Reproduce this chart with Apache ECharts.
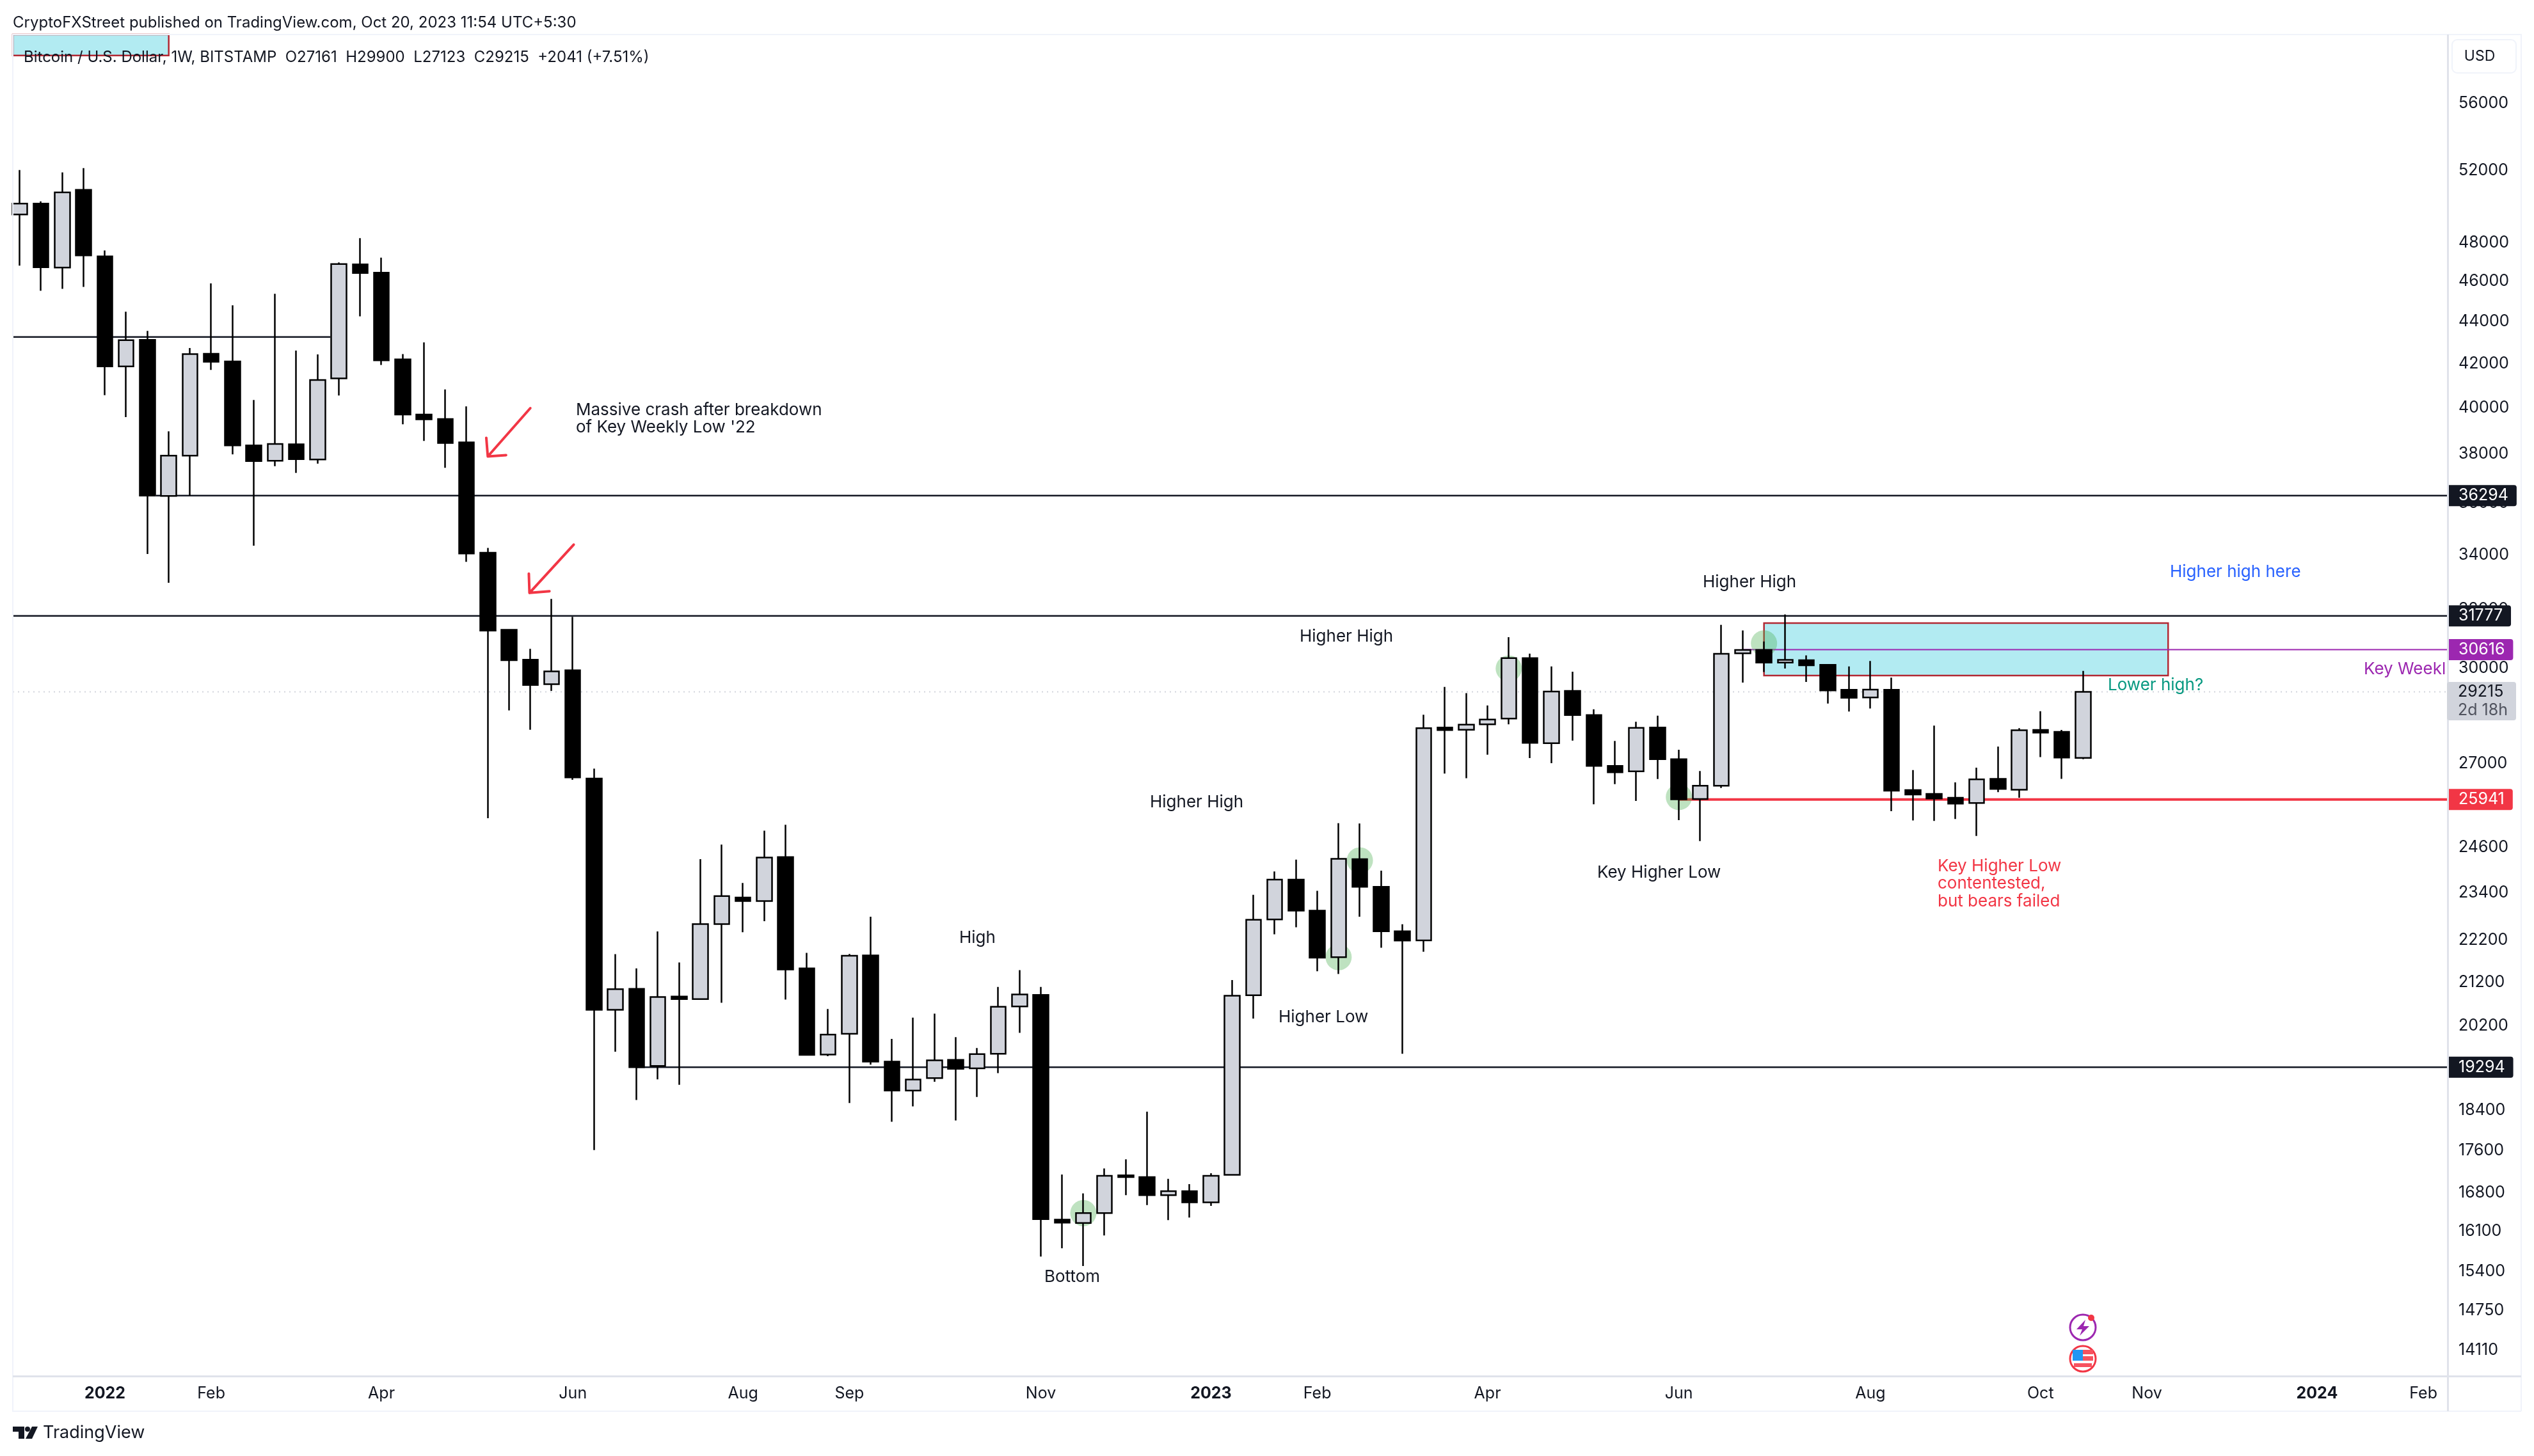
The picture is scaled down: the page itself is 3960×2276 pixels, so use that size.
<!DOCTYPE html>
<html>
<head>
<meta charset="utf-8">
<title>BTC/USD weekly</title>
<script src="https://cdn.jsdelivr.net/npm/echarts@6/dist/echarts.min.js"></script>
<style>
  html, body { margin: 0; padding: 0; background: #fff; }
  #main { width: 3960px; height: 2276px; }
</style>
</head>
<body>
<div id="main"></div>
<script>
// weekly candles, Dec 6 2021 .. Oct 16 2023
const opens = [49527,50127,46704,50897,47283,41872,43118,36284,37936,42459,42103,38371,37724,38413,37776,41321,46869,46443,42194,39700,39501,38500,34074,31294,30276,29466,29925,26547,20558,21040,19321,20861,20803,22604,23274,23184,24339,21523,19565,20021,21832,19414,18802,19063,19452,19272,19584,20637,20901,16303,16241,16421,17120,17088,16750,16824,16618,17129,20891,22719,23743,22939,21791,24283,23554,22424,22197,28087,28018,28187,28368,30329,27604,29251,28479,26920,26760,28087,27124,25955,26336,30489,30605,30176,30259,30105,29283,29035,29283,26210,26103,25991,25837,26538,26222,28016,27955,27161]
const closes = [50127,46721,50747,47332,41872,43100,36297,37936,42441,42088,38371,37711,38427,37789,41242,46885,46423,42149,39700,39487,38470,34043,31267,30261,29439,29885,26582,20558,21032,19293,20850,20803,22604,23314,23184,24327,21495,19558,20002,21824,19414,18802,19034,19442,19262,19575,20627,20911,16311,16249,16421,17112,17088,16750,16824,16618,17112,20880,22709,23743,22939,21779,24295,23554,22424,22195,28067,28008,28177,28339,30329,27616,29230,28479,26920,26731,28077,27124,25945,26338,30472,30603,30176,30267,30088,29264,29027,29291,26195,26083,25969,25822,26525,26244,28006,27931,27169,29215]
const lows = [46805,45519,45615,45716,40558,39588,34026,32959,36297,41706,37990,34342,37497,37217,37604,40544,44248,41935,39271,38556,37431,33733,25411,28624,28018,29251,26512,17606,19629,18607,19037,18923,20785,20718,22400,22674,20794,19540,19532,18546,19348,18165,18475,18987,18192,18670,19167,20041,15649,15796,15488,16019,16750,16568,16295,16341,16552,17120,20360,22348,22523,21452,21389,22786,22019,19584,21921,26694,26555,27254,28187,27154,27002,27685,25804,26386,25898,26534,25354,24775,26272,29517,29866,29982,29538,28843,28587,28683,25606,25345,25331,25387,24917,26153,25991,27185,26538,27123]
const highs = [52018,50252,51884,52129,47599,44478,43545,38971,42733,45897,44795,40345,45370,42609,42425,46969,48251,47218,42441,42994,40816,40059,34259,31294,30639,32381,31743,26839,21862,21523,22421,21665,24285,24678,23651,25061,25224,21894,20578,21867,22786,19908,20382,20473,19945,19707,21084,21481,21084,17137,16783,17252,17425,18368,17054,16956,17161,21247,23344,23955,24271,23449,25272,25259,23977,22599,28489,29380,29174,28782,31036,30481,30048,29876,28660,27675,28268,28459,27404,26769,31464,31272,30891,31829,30419,30105,30048,30233,29683,26799,28150,26433,26868,27502,28067,28601,28016,29900]

// axis labels
const priceTicks = [56000,52000,48000,46000,44000,42000,40000,38000,36000,34000,32000,30000,27000,24600,23400,22200,21200,20200,18400,17600,16800,16100,15400,14750,14110]
const priceTags = [36294,31777,30616,25941,19294]
const timeTickWeeks = [4,9,17,26,34,39,48,56,61,69,78,87,95,100,108,113]
const timeTickLabels = ['2022','Feb','Apr','Jun','Aug','Sep','Nov','2023','Feb','Apr','Jun','Aug','Oct','Nov','2024','Feb']

// drawn levels: price and the week they run from / to
const levelPrices = [43253,36294,31777,30616,29215,25941,19294]
const levelFrom = [-0.33,6.4,-0.33,81,-0.33,78,29]
const levelTo = [14.6,114.14,114.14,114.14,114.14,114.14,114.14]

// marked pivots (week, price)
const pivotWeeks = [50,62,63,70,78,82]
const pivotPrices = [16421,21791,24250,29982,26010,30827]

// blue zone and its stray copy in the top left corner
const zoneWeeks = [82,101]
const zonePrices = [31526,29750]
const cornerWeeks = [-0.33,7]
const cornerPrices = [60426,59040]

// hand drawn arrows (start, tip, barb, tip, barb)
const arrowOneWeeks = [24,22,21.93,22,22.86]
const arrowOnePrices = [39980,37904,38691,37904,37956]
const arrowTwoWeeks = [26.04,23.96,23.93,23.96,24.9]
const arrowTwoPrices = [34383,32596,33297,32596,32655]

const FONT = 'Inter, "Noto Sans", sans-serif'
const INK = '#131722'
const RED = '#f23645'
const PURPLE = '#9c27b0'
const xMin = -0.331, xMax = 114.14
const tagColors = { 36294: INK, 31777: INK, 30616: PURPLE, 25941: RED, 19294: INK }
const levelStyles = [
  { color: INK, width: 2.5 },
  { color: INK, width: 2.5 },
  { color: INK, width: 2.5 },
  { color: PURPLE, width: 2 },
  { color: '#d1d4dc', width: 2, type: [2, 6] },
  { color: RED, width: 4 },
  { color: INK, width: 2.5 }
]

const candleData = opens.map((o, i) => [i, o, closes[i], lows[i], highs[i]])

function text(x, y, str, color, size, extra) {
  return {
    type: 'text', x: x, y: y, z: 50, silent: true,
    style: Object.assign({ text: str, fill: color || '#000', font: (size || 26) + 'px ' + FONT, textVerticalAlign: 'middle' }, extra)
  }
}
function box(x, y, w, h, fill, r) {
  return { type: 'rect', z: 40, silent: true, shape: { x: x, y: y, width: w, height: h, r: r || 0 }, style: { fill: fill } }
}

const graphics = [
  // frame
  box(19, 53, 3921, 2, '#f0f3fa'),
  box(19, 53, 2, 2153, '#f0f3fa'),
  box(3939, 53, 2, 2153, '#f0f3fa'),
  box(19, 2205, 3921, 2, '#f0f3fa'),
  box(3824, 54, 3, 2152, '#e0e3eb'),
  box(20, 2150, 3920, 3, '#e0e3eb'),
  // header
  text(20, 36, 'CryptoFXStreet published on TradingView.com, Oct 20, 2023 11:54 UTC+5:30', INK, 24),
  text(37, 90, 'Bitcoin / U.S. Dollar, 1W, BITSTAMP  O27161  H29900  L27123  C29215  +2041 (+7.51%)', INK, 24),
  // USD button
  { type: 'rect', z: 40, silent: true, shape: { x: 3832, y: 62, width: 100, height: 52, r: 8 }, style: { fill: '#fff', stroke: '#f0f3fa', lineWidth: 2 } },
  text(3875, 88, 'USD', INK, 23, { textAlign: 'center' }),
  // last price tag
  box(3824, 1066, 108, 60, '#d1d4dc', 4),
  text(3841, 1081, '29215', INK, 25),
  text(3841, 1110, '2d 18h', '#50535e', 25),
  // notes
  text(900, 641, 'Massive crash after breakdown', INK, 26),
  text(900, 668, "of Key Weekly Low '22", INK, 26),
  text(1499, 1466, 'High', INK, 26),
  text(1797, 1254, 'Higher High', INK, 26),
  text(1998, 1590, 'Higher Low', INK, 26),
  text(1632, 1996, 'Bottom', INK, 26),
  text(2031, 995, 'Higher High', INK, 26),
  text(2496, 1364, 'Key Higher Low', INK, 26),
  text(2661, 910, 'Higher High', INK, 26),
  text(3391, 894, 'Higher high here', '#2962ff', 26),
  text(3294, 1071, 'Lower high?', '#089981', 26),
  text(3694, 1046, 'Key Weekl', PURPLE, 26),
  text(3028, 1354, 'Key Higher Low', RED, 26),
  text(3028, 1381, 'contentested,', RED, 26),
  text(3028, 1409, 'but bears failed', RED, 26),
  // event icons
  { type: 'circle', z: 40, silent: true, shape: { cx: 3255, cy: 2075, r: 20 }, style: { fill: '#fff', stroke: PURPLE, lineWidth: 3 } },
  { type: 'polygon', z: 41, silent: true, shape: { points: [[3259, 2063], [3245, 2078], [3254, 2078], [3250, 2088], [3265, 2073], [3256, 2073]] }, style: { fill: PURPLE } },
  { type: 'circle', z: 41, silent: true, shape: { cx: 3268, cy: 2060, r: 5 }, style: { fill: RED } },
  { type: 'circle', z: 40, silent: true, shape: { cx: 3255, cy: 2124, r: 20 }, style: { fill: '#fff', stroke: RED, lineWidth: 3 } },
  box(3239, 2110, 32, 7, '#f7525f'),
  box(3239, 2120, 32, 7, '#f7525f'),
  box(3241, 2131, 28, 6, '#f7525f'),
  box(3239, 2110, 16, 17, '#2196f3'),
  // TradingView logo
  { type: 'polygon', z: 40, silent: true, shape: { points: [[20, 2230], [38, 2230], [38, 2249], [29, 2249], [29, 2238], [20, 2238]] }, style: { fill: INK } },
  { type: 'circle', z: 40, silent: true, shape: { cx: 43, cy: 2234, r: 4 }, style: { fill: INK } },
  { type: 'polygon', z: 40, silent: true, shape: { points: [[50, 2230], [59, 2230], [50, 2249], [40, 2249]] }, style: { fill: INK } },
  text(67, 2240, 'TradingView', INK, 27)
]

const levelSeries = levelPrices.map((p, i) => ({
  type: 'line', z: 2, silent: true, symbol: 'none',
  lineStyle: levelStyles[i],
  data: [[levelFrom[i], p], [levelTo[i], p]]
}))

const arrowLine = (weeks, prices) => ({
  type: 'line', z: 6, silent: true, symbol: 'none',
  lineStyle: { color: RED, width: 4, cap: 'round', join: 'round' },
  data: weeks.map((w, i) => [w, prices[i]])
})

const zoneStyle = { color: '#b2ebf2', borderColor: '#b22833', borderWidth: 2.5, opacity: 1 }
const zoneArea = (weeks, prices) => [{ coord: [weeks[0], prices[0]], itemStyle: zoneStyle }, { coord: [weeks[1], prices[1]] }]

const option = {
  animation: false,
  backgroundColor: '#fff',
  textStyle: { fontFamily: FONT },
  grid: { left: 20, right: 135, top: 54, bottom: 125 },
  xAxis: {
    type: 'value', min: xMin, max: xMax,
    splitLine: { show: false }, axisLine: { show: false }, axisTick: { show: false },
    axisLabel: {
      customValues: timeTickWeeks, margin: 15, fontSize: 25, fontFamily: FONT, color: INK, showMinLabel: true, showMaxLabel: true,
      formatter: v => {
        const s = timeTickLabels[timeTickWeeks.indexOf(v)]
        return /^\d+$/.test(s) ? '{y|' + s + '}' : s
      },
      rich: { y: { fontWeight: 'bold', fontSize: 25, fontFamily: FONT, color: INK } }
    }
  },
  yAxis: {
    type: 'log', position: 'right', min: 13714, max: 60426,
    splitLine: { show: false }, axisLine: { show: false }, axisTick: { show: false },
    axisLabel: {
      customValues: priceTicks.concat(priceTags), margin: 0, showMinLabel: true, showMaxLabel: true,
      formatter: v => tagColors[v] ? '{t' + v + '|' + v + '}' : '{n|' + v + '}',
      rich: Object.assign(
        { n: { fontSize: 25, fontFamily: FONT, color: INK, padding: [0, 0, 0, 17] } },
        Object.fromEntries(priceTags.map(t => ['t' + t, {
          fontSize: 25, fontFamily: FONT, color: '#fff', backgroundColor: tagColors[t],
          padding: [4, 13, 4, 17], borderRadius: [0, 4, 4, 0]
        }]))
      )
    }
  },
  series: [
    {
      type: 'line', z: 1, silent: true, symbol: 'none', lineStyle: { width: 0 }, data: [],
      markArea: { silent: true, data: [zoneArea(zoneWeeks, zonePrices), zoneArea(cornerWeeks, cornerPrices)] }
    },
    ...levelSeries,
    {
      type: 'scatter', z: 3, silent: true, symbolSize: 41,
      itemStyle: { color: 'rgba(76,175,80,0.45)' },
      data: pivotWeeks.map((w, i) => [w, pivotPrices[i]])
    },
    {
      type: 'candlestick', z: 4, silent: true, barWidth: 24,
      encode: { x: 0, y: [1, 2, 3, 4] },
      itemStyle: { color: '#d1d4dc', color0: '#000', borderColor: '#000', borderColor0: '#000', borderColorDoji: '#000', borderWidth: 2.5 },
      data: candleData
    },
    arrowLine(arrowOneWeeks, arrowOnePrices),
    arrowLine(arrowTwoWeeks, arrowTwoPrices)
  ],
  graphic: graphics
}

const myChart = echarts.init(document.getElementById('main'))
myChart.setOption(option)
</script>
</body>
</html>
